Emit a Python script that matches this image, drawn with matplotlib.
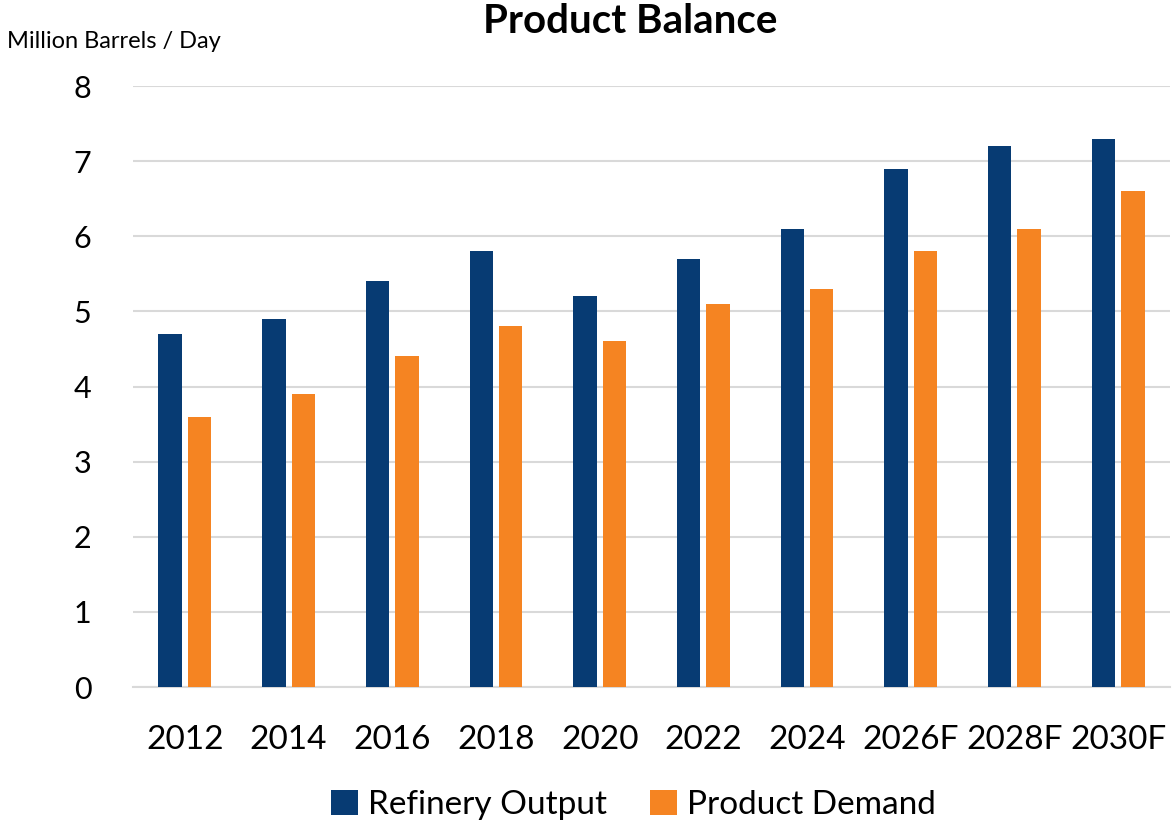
import matplotlib
matplotlib.use("Agg")
import matplotlib.pyplot as plt
import numpy as np

plt.rcParams['font.family'] = ['Lato', 'DejaVu Sans']

categories = ["2012", "2014", "2016", "2018", "2020", "2022", "2024", "2026F", "2028F", "2030F"]
refinery_output = [4.7, 4.9, 5.4, 5.8, 5.2, 5.7, 6.1, 6.9, 7.2, 7.3]
product_demand = [3.6, 3.9, 4.4, 4.8, 4.6, 5.1, 5.3, 5.8, 6.1, 6.6]
yticks = [0, 1, 2, 3, 4, 5, 6, 7, 8]

navy = "#073B73"
orange = "#F58422"

fig = plt.figure(figsize=(11.73, 8.23), dpi=100)
ax = fig.add_axes([0.1134, 0.1652, 0.884, 0.7303])

x = np.arange(len(categories))
w = 0.226
off = 0.142
ax.bar(x - off, refinery_output, width=w, color=navy, label="Refinery Output", zorder=3)
ax.bar(x + off, product_demand, width=w, color=orange, label="Product Demand", zorder=3)

ax.set_xlim(-0.5, len(categories) - 0.5)
ax.set_ylim(0, 8)
ax.set_yticks(yticks)
ax.set_yticklabels([str(v) for v in yticks])
ax.set_xticks(x)
ax.set_xticklabels(categories)
ax.tick_params(axis='both', length=0, colors="black")
ax.tick_params(axis='y', pad=30, labelsize=22)
ax.tick_params(axis='x', pad=27, labelsize=24)
ax.yaxis.grid(True, color="#D9D9D9", linewidth=1.5, zorder=0)
ax.set_axisbelow(True)
for s in ["top", "right", "left"]:
    ax.spines[s].set_visible(False)
ax.spines["bottom"].set_color("#D9D9D9")
ax.spines["bottom"].set_linewidth(1.5)

fig.text(0.537, 0.974, "Product Balance", ha="center", va="center", fontsize=29, fontweight="bold")
fig.text(0.006, 0.949, "Million Barrels / Day", ha="left", va="center", fontsize=17)

leg = fig.legend(loc="center", bbox_to_anchor=(0.54, 0.022), ncol=2, frameon=False,
                 fontsize=24, handlelength=0.8, handleheight=0.8, handletextpad=0.3,
                 columnspacing=1.3)

fig.savefig("out.png", dpi=100)
